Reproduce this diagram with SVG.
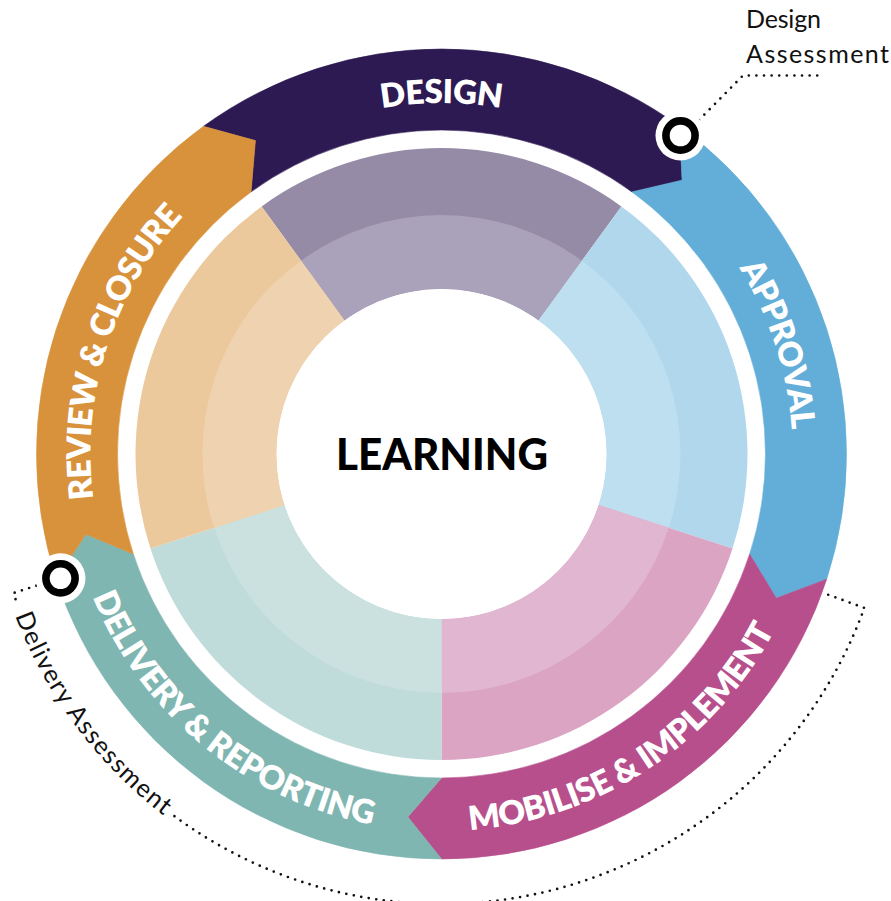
<svg xmlns="http://www.w3.org/2000/svg" width="891" height="901" viewBox="0 0 891 901">
  <style>
    .lbl { font-family: Lato, "Noto Sans", "DejaVu Sans", sans-serif; font-weight: 800; font-size: 33px; fill: #ffffff; }
    .note { font-family: Lato, "Noto Sans", "DejaVu Sans", sans-serif; font-weight: 400; font-size: 25px; fill: #111111; }
    .core { font-family: Lato, "Noto Sans", "DejaVu Sans", sans-serif; font-weight: 900; font-size: 44px; fill: #000000; }
    .dots { fill: none; stroke: #111111; stroke-width: 2.7; stroke-linecap: round; stroke-linejoin: round; stroke-dasharray: 0 7.6; }
    .arrow { stroke-width: 0.6; stroke-linejoin: round; }
    .marker-bg { fill: #ffffff; }
    .marker-ring { fill: #ffffff; stroke: #000000; stroke-width: 7.6; }
    .design  { fill: #2e1a52; stroke: #2e1a52; }
    .approval { fill: #62aed8; stroke: #62aed8; }
    .mobilise { fill: #b84f8d; stroke: #b84f8d; }
    .delivery { fill: #7fb6b1; stroke: #7fb6b1; }
    .review  { fill: #d9923c; stroke: #d9923c; }
  </style>
  <defs>
    <!-- baselines for the ring labels; upper labels run clockwise, lower ones anticlockwise -->
    <path id="arc-design" d="M137.53,278.5 A351,351 0 0 1 745.48,278.5"/>
    <path id="arc-approval" d="M514.48,110.67 A351,351 0 0 1 702.34,688.87"/>
    <path id="arc-review" d="M182.10,690.45 A351,351 0 0 1 366.43,111.12"/>
    <path id="arc-mobilise" d="M271.52,790.51 A377,377 0 0 0 817.91,432.96"/>
    <path id="arc-delivery" d="M69.30,394.05 A377,377 0 0 0 575.68,806.31"/>
    <path id="arc-delivery-note" d="M23.00,272.90 A456,456 0 0 0 493.91,906.98"/>
  </defs>

  <!-- phase: design -->
  <g id="design">
    <path fill="#968ba6" d="M261.64,206.44 A306,306 0 0 1 621.36,206.44 L538.48,320.51 A165,165 0 0 0 344.52,320.51 Z"/>
    <path fill="#aaa1ba" d="M301.02,260.65 A239,239 0 0 1 581.98,260.65 L538.48,320.51 A165,165 0 0 0 344.52,320.51 Z"/>
    <path class="arrow design" d="M203.45,126.35 A405,405 0 0 1 679.55,126.35 L682.07,180.16 L631.94,191.88 A324,324 0 0 0 251.06,191.88 L255.41,140.58 Z"/>
    <text class="lbl"><textPath href="#arc-design" startOffset="50%" text-anchor="middle" textLength="120" lengthAdjust="spacing">DESIGN</textPath></text>
  </g>

  <!-- phase: approval -->
  <g id="approval">
    <path fill="#b0d7ec" d="M621.36,206.44 A306,306 0 0 1 732.52,548.56 L598.42,504.99 A165,165 0 0 0 538.48,320.51 Z"/>
    <path fill="#bedff0" d="M581.98,260.65 A239,239 0 0 1 668.80,527.86 L598.42,504.99 A165,165 0 0 0 538.48,320.51 Z"/>
    <path class="arrow approval" d="M679.55,126.35 A405,405 0 0 1 826.68,579.15 L776.27,598.18 L749.64,554.12 A324,324 0 0 0 631.94,191.88 L682.07,180.16 Z"/>
    <text class="lbl"><textPath href="#arc-approval" startOffset="50%" text-anchor="middle" textLength="172" lengthAdjust="spacing">APPROVAL</textPath></text>
  </g>

  <!-- phase: mobilise & implement -->
  <g id="mobilise">
    <path fill="#dba4c3" d="M732.52,548.56 A306,306 0 0 1 441.5,760 L441.5,619 A165,165 0 0 0 598.42,504.99 Z"/>
    <path fill="#e1b6d0" d="M668.80,527.86 A239,239 0 0 1 441.5,693 L441.5,619 A165,165 0 0 0 598.42,504.99 Z"/>
    <path class="arrow mobilise" d="M826.68,579.15 A405,405 0 0 1 441.5,859 L407.83,816.94 L441.5,778 A324,324 0 0 0 749.64,554.12 L776.27,598.18 Z"/>
    <text class="lbl"><textPath href="#arc-mobilise" startOffset="50%" text-anchor="middle" textLength="380" lengthAdjust="spacing">MOBILISE &amp; IMPLEMENT</textPath></text>
  </g>

  <!-- phase: delivery & reporting -->
  <g id="delivery">
    <path fill="#bfdbda" d="M441.5,760 A306,306 0 0 1 150.48,548.56 L284.58,504.99 A165,165 0 0 0 441.5,619 Z"/>
    <path fill="#cae1df" d="M441.5,693 A239,239 0 0 1 214.20,527.86 L284.58,504.99 A165,165 0 0 0 441.5,619 Z"/>
    <path class="arrow delivery" d="M441.5,859 A405,405 0 0 1 56.32,579.15 L85.92,534.13 L133.36,554.12 A324,324 0 0 0 441.5,778 L407.83,816.94 Z"/>
    <text class="lbl"><textPath href="#arc-delivery" startOffset="50%" text-anchor="middle" textLength="376" lengthAdjust="spacing">DELIVERY &amp; REPORTING</textPath></text>
  </g>

  <!-- phase: review & closure -->
  <g id="review">
    <path fill="#ecc99d" d="M150.48,548.56 A306,306 0 0 1 261.64,206.44 L344.52,320.51 A165,165 0 0 0 284.58,504.99 Z"/>
    <path fill="#efd3b1" d="M214.20,527.86 A239,239 0 0 1 301.02,260.65 L344.52,320.51 A165,165 0 0 0 284.58,504.99 Z"/>
    <path class="arrow review" d="M56.32,579.15 A405,405 0 0 1 203.45,126.35 L255.41,140.58 L251.06,191.88 A324,324 0 0 0 133.36,554.12 L85.92,534.13 Z"/>
    <text class="lbl"><textPath href="#arc-review" startOffset="50%" text-anchor="middle" textLength="306" lengthAdjust="spacing">REVIEW &amp; CLOSURE</textPath></text>
  </g>

  <!-- hub -->
  <g id="learning">
    <circle cx="441.5" cy="454" r="165" fill="#ffffff"/>
    <text class="core" x="442" y="469.5" text-anchor="middle" textLength="212" lengthAdjust="spacingAndGlyphs">LEARNING</text>
  </g>

  <!-- dotted leaders -->
  <g id="connectors">
    <path class="dots" d="M699,120 L743,75.5 L823,75.5"/>
    <path class="dots" d="M36.35,585.64 L13.52,593.06 A450,450 0 0 0 17.31,604.21"/>
    <path class="dots" d="M174.46,816.20 A450,450 0 0 0 864.36,607.91 L827.71,594.57"/>
  </g>

  <!-- checkpoint: design assessment -->
  <g id="design-assessment">
    <circle class="marker-bg" cx="680.5" cy="135.5" r="25"/>
    <circle class="marker-ring" cx="680.5" cy="135.5" r="14.6"/>
    <text class="note" x="746" y="28" textLength="75" lengthAdjust="spacing">Design</text>
    <text class="note" x="746" y="63" textLength="143" lengthAdjust="spacing">Assessment</text>
  </g>

  <!-- checkpoint: delivery assessment -->
  <g id="delivery-assessment">
    <circle class="marker-bg" cx="60.5" cy="578.3" r="25"/>
    <circle class="marker-ring" cx="60.5" cy="578.3" r="14.6"/>
    <text class="note"><textPath href="#arc-delivery-note" startOffset="50%" text-anchor="middle" textLength="252" lengthAdjust="spacing">Delivery Assessment</textPath></text>
  </g>
</svg>
